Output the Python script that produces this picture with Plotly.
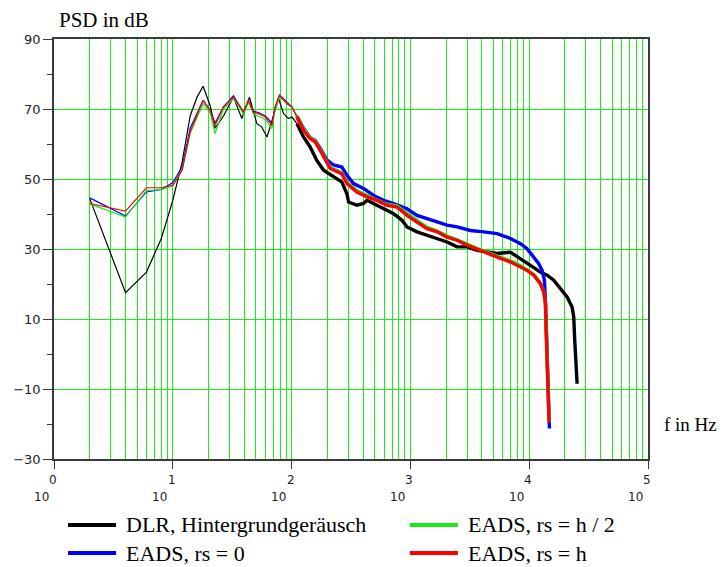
import plotly.graph_objects as go

# Frequency (Hz) and PSD (dB) for each measurement series
BLACK_F = [2, 4, 6, 7, 8, 10, 12, 14, 16, 18, 20.6, 22.7, 26.7, 32.4, 38.1,
           44.2, 47.5, 51, 56, 62, 66, 77.6, 85.5, 94, 100.6, 111, 126, 143.5,
           163, 186, 225, 265, 292, 302, 355, 403, 431, 490, 595, 722, 850, 936,
           1137, 1380, 1676, 2034, 2470, 3000, 3640, 4420, 5370, 6950, 8440,
           10240, 12420, 14150, 16080, 18310, 20840, 22960, 23710, 24170, 24830,
           25310]
BLACK_DB = [44.4, 17.5, 23.4, 28.4, 33.0, 43.9, 54.9, 68.0, 73.4, 76.5, 71.0,
            64.5, 68.0, 73.4, 67.3, 73.4, 69.6, 65.8, 64.9, 62.0, 64.9, 73.0,
            68.7, 67.3, 67.7, 65.8, 62.0, 59.1, 55.3, 52.5, 50.6, 49.1, 45.8,
            43.4, 42.5, 43.0, 43.9, 43.0, 41.5, 40.1, 38.2, 36.3, 34.9, 33.9,
            32.9, 32.0, 30.6, 30.6, 29.6, 29.1, 28.7, 29.1, 27.3, 25.3, 23.4,
            22.5, 21.1, 18.7, 16.3, 13.4, 10.6, 3.9, -1.8, -8.5]

BLUE_F = [2, 4, 6, 8, 10, 12, 14, 16, 18, 20.6, 22.7, 26.7, 32.4, 36.9, 39.3,
          43.4, 47.7, 52.6, 60, 68.3, 72.8, 79.1, 91.3, 100.6, 110.8, 126, 143.5,
          158, 174, 198, 225, 265, 292, 332, 403, 490, 595, 722, 936, 1137, 1380,
          1676, 2034, 2470, 3200, 4140, 5370, 6950, 8440, 9600, 10920, 12030,
          12840, 13430, 13700, 13880, 14150, 14320, 14510, 14800]
BLUE_DB = [44.6, 39.4, 46.3, 47.0, 49.0, 53.5, 64.5, 68.5, 72.5, 69.6, 66.0,
           70.6, 73.8, 70.6, 69.1, 72.5, 69.4, 69.0, 68.0, 66.0, 70.6, 74.0,
           72.0, 70.6, 68.0, 64.5, 61.8, 61.0, 58.8, 55.5, 54.0, 53.4, 51.1,
           48.7, 47.3, 45.3, 43.9, 43.0, 41.5, 39.6, 38.7, 37.7, 36.8, 36.3,
           35.3, 34.9, 34.4, 33.0, 31.5, 30.1, 27.7, 25.8, 23.9, 21.1, 15.3,
           7.7, 1.0, -5.6, -13.2, -21.3]

EADS_F = [2, 4, 6, 8, 10, 12, 14, 16, 18, 20.6, 22.7, 26.7, 32.4, 36.9, 39.3,
          43.4, 47.7, 52.6, 60, 68.3, 72.8, 79.1, 91.3, 100.6, 110.8, 126, 143.5,
          158, 174, 198, 211, 265, 292, 355, 431, 523, 635, 771, 936, 1137, 1380,
          1676, 2034, 2470, 3000, 3880, 4710, 5720, 6950, 8440, 9600, 10920,
          12420, 13250, 13700, 13880, 14150, 14320, 14510, 14700]
GREEN_DB = [42.9, 39.1, 46.7, 47.0, 48.0, 52.8, 63.0, 67.5, 71.5, 69.0, 63.0,
            70.0, 73.0, 70.2, 68.5, 72.0, 68.5, 68.0, 67.0, 64.4, 70.0, 73.5,
            71.5, 70.4, 68.0, 64.3, 61.8, 60.8, 58.5, 55.2, 53.3, 51.8, 49.0,
            46.6, 45.2, 44.0, 42.8, 42.3, 40.2, 38.1, 36.2, 35.1, 33.7, 32.6,
            31.3, 29.8, 28.7, 27.6, 26.6, 25.2, 24.0, 22.7, 20.3, 17.9, 14.6,
            7.3, 0.3, -5.8, -12.8, -19.4]
RED_DB = [43.0, 40.8, 47.5, 47.5, 48.2, 52.5, 63.5, 68.0, 72.5, 69.6, 65.3,
          70.6, 73.4, 70.6, 69.1, 72.5, 69.1, 68.7, 67.7, 65.3, 70.6, 73.9,
          71.5, 70.6, 67.7, 63.9, 61.5, 60.6, 58.2, 54.9, 53.0, 51.5, 48.7,
          46.3, 44.9, 43.9, 42.5, 42.0, 39.6, 37.7, 35.8, 34.9, 33.4, 32.5,
          31.1, 29.6, 28.4, 27.3, 26.3, 24.9, 23.9, 22.5, 20.1, 17.7, 14.4,
          7.0, 0.0, -6.0, -13.0, -19.6]

SERIES_NAMES = ["DLR, Hintergrundgeräusch", "EADS, rs = h / 2",
                "EADS, rs = 0", "EADS, rs = h"]
X_DECADES = [0, 1, 2, 3, 4, 5]
Y_RANGE = [-30, 90]

BLACK = "#000000"
BLUE = "#0000ff"
GREEN = "#14ec14"
RED = "#ff0000"
GRID = "#18f018"
AXIS = "#3a3a3a"
SERIF = "Liberation Serif"
SANS = "DejaVu Sans"

fig = go.Figure()


def add_series(f, db, color):
    # narrow-band low end drawn thin, noisy broadband part drawn as a band
    cut = next(i for i, v in enumerate(f) if v >= 110)
    fig.add_trace(go.Scatter(x=f[:cut + 1], y=db[:cut + 1], mode="lines",
                             line=dict(color=color, width=1.2),
                             showlegend=False))
    fig.add_trace(go.Scatter(x=f[cut:], y=db[cut:], mode="lines",
                             line=dict(color=color, width=3.4),
                             showlegend=False))


add_series(BLACK_F, BLACK_DB, BLACK)
add_series(BLUE_F, BLUE_DB, BLUE)
add_series(EADS_F, GREEN_DB, GREEN)
add_series(EADS_F, RED_DB, RED)

annotations = []
# decade labels written as exponent over "10"
for k in X_DECADES:
    annotations.append(dict(x=k, y=Y_RANGE[0], xref="x", yref="y", text=str(k),
                            showarrow=False, xanchor="center", yanchor="top",
                            yshift=-12, xshift=-1,
                            font=dict(family=SANS, size=12, color="#222")))
    annotations.append(dict(x=k, y=Y_RANGE[0], xref="x", yref="y", text="10",
                            showarrow=False, xanchor="center", yanchor="top",
                            yshift=-29, xshift=-13,
                            font=dict(family=SANS, size=12, color="#222")))

annotations.append(dict(x=0.085, y=1.045, xref="paper", yref="paper",
                        text="PSD in dB", showarrow=False, xanchor="center",
                        yanchor="middle",
                        font=dict(family=SERIF, size=21, color="#000")))
annotations.append(dict(x=1.072, y=0.083, xref="paper", yref="paper",
                        text="f in Hz", showarrow=False, xanchor="center",
                        yanchor="middle",
                        font=dict(family=SERIF, size=19, color="#000")))

# legend: two columns, two rows below the plot
legend_items = [(SERIES_NAMES[0], BLACK, 0.0236, -0.157),
                (SERIES_NAMES[1], GREEN, 0.599, -0.157),
                (SERIES_NAMES[2], BLUE, 0.0236, -0.224),
                (SERIES_NAMES[3], RED, 0.599, -0.224)]
shapes = []
for name, color, x0, y0 in legend_items:
    shapes.append(dict(type="line", xref="paper", yref="paper",
                       x0=x0, x1=x0 + 0.081, y0=y0, y1=y0,
                       line=dict(color=color, width=4)))
    annotations.append(dict(x=x0 + 0.095, y=y0, xref="paper", yref="paper",
                            text=name, showarrow=False, xanchor="left",
                            yanchor="middle",
                            font=dict(family=SERIF, size=22, color="#000")))

fig.update_layout(
    width=724, height=567,
    margin=dict(l=54, r=76, t=39, b=108),
    paper_bgcolor="white", plot_bgcolor="white",
    showlegend=False,
    annotations=annotations,
    shapes=shapes,
    xaxis=dict(type="log", range=[X_DECADES[0], X_DECADES[-1]], dtick=1,
               showgrid=True, gridcolor=GRID, gridwidth=1.4,
               showticklabels=False, ticks="outside", ticklen=8,
               tickcolor=AXIS, showline=True, mirror=True, linecolor=AXIS,
               linewidth=1.5, zeroline=False,
               minor=dict(dtick="D1", showgrid=True, gridcolor=GRID,
                          gridwidth=1.4, ticks="")),
    yaxis=dict(range=Y_RANGE, tick0=-30, dtick=20, showgrid=True,
               gridcolor=GRID, gridwidth=1.4, zeroline=False, ticks="outside",
               ticklen=9, tickcolor=AXIS, showline=True, mirror=True,
               linecolor=AXIS, linewidth=1.5,
               tickfont=dict(family=SANS, size=13, color="#222"),
               minor=dict(tick0=-30, dtick=10, ticks="outside", ticklen=5,
                          tickcolor=AXIS, showgrid=False)),
)

fig.write_html("out.html")
